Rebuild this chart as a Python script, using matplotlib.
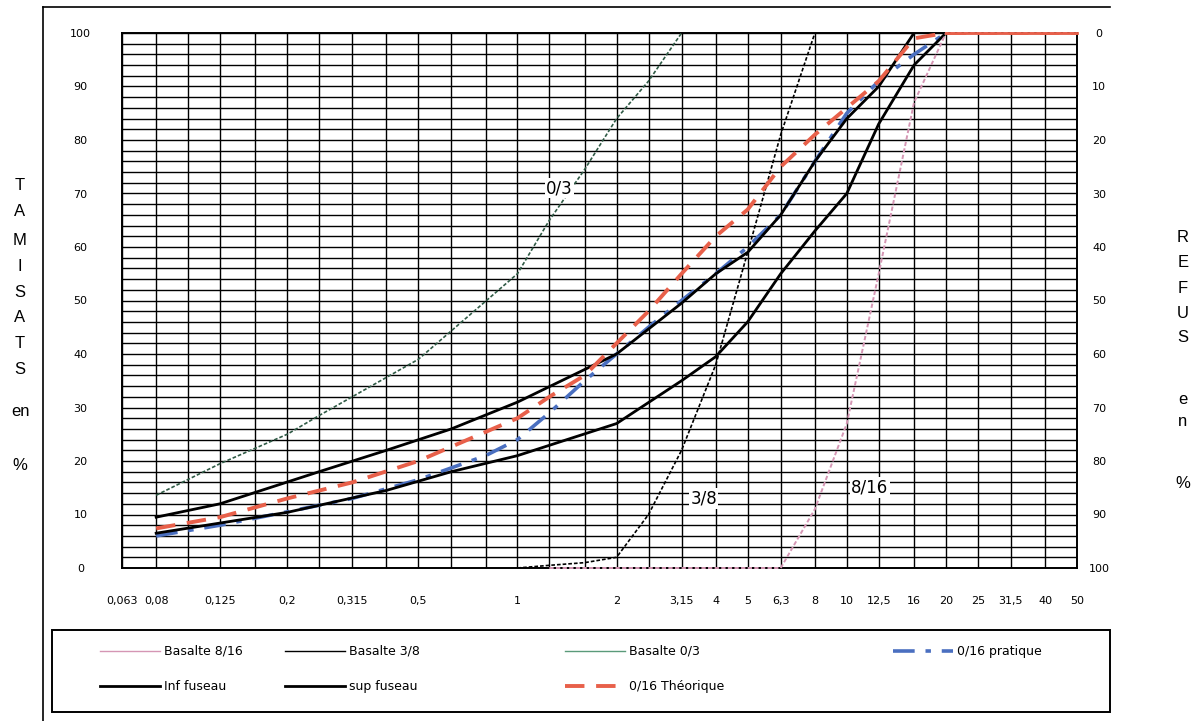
import numpy as np
import matplotlib
matplotlib.use("Agg")
import matplotlib.pyplot as plt
from matplotlib.ticker import FixedLocator, FixedFormatter, NullFormatter
from matplotlib.lines import Line2D
from matplotlib.patches import Rectangle

# ---------------- data ----------------
tick_values = [0.063, 0.08, 0.125, 0.2, 0.315, 0.5, 1, 2, 3.15, 4, 5, 6.3, 8, 10,
               12.5, 16, 20, 25, 31.5, 40, 50]
tick_labels = ["0,063", "0,08", "0,125", "0,2", "0,315", "0,5", "1", "2", "3,15",
               "4", "5", "6,3", "8", "10", "12,5", "16", "20", "25", "31,5", "40", "50"]
grid_sieves = [0.063, 0.08, 0.1, 0.125, 0.16, 0.2, 0.25, 0.315, 0.4, 0.5, 0.63, 0.8,
               1, 1.25, 1.6, 2, 2.5, 3.15, 4, 5, 6.3, 8, 10, 12.5, 16, 20, 25, 31.5, 40, 50]

b816_x = [1.25, 1.6, 2, 2.5, 3.15, 4, 5, 6.3, 8, 10, 12.5, 16, 20, 25, 31.5, 40, 50]
b816_y = [0, 0, 0, 0, 0, 0, 0, 0, 11, 27, 55, 87, 100, 100, 100, 100, 100]

b38_x = [1, 1.25, 1.6, 2, 2.5, 3.15, 4, 5, 6.3, 8]
b38_y = [0, 0.5, 1, 2, 10, 22, 38, 59, 81, 100]

b03_x = [0.08, 0.125, 0.2, 0.25, 0.315, 0.5, 1, 1.25, 1.6, 2, 2.5, 3.15]
b03_y = [13.6, 19.5, 25, 28.5, 32, 39, 55, 65, 74.5, 84, 91, 100]

prat_x = [0.08, 0.125, 0.2, 0.315, 0.5, 0.8, 1, 1.25, 1.6, 2, 2.5, 3.15, 4, 5, 6.3,
          8, 10, 12.5, 16, 20]
prat_y = [6, 8, 10.5, 13, 16.5, 21, 24, 29, 35, 40, 45, 50, 55, 60, 66, 76, 85, 91, 96, 100]

inf_x = [0.08, 0.2, 0.4, 0.63, 1, 2, 3.15, 4, 5, 6.3, 8, 10, 12.5, 16, 20]
inf_y = [6.5, 10.4, 14.5, 18, 21, 27, 35, 39.5, 46, 55, 63, 70, 83, 94, 100]

sup_x = [0.08, 0.125, 0.25, 0.4, 0.63, 1, 2, 3.15, 4, 5, 6.3, 8, 10, 12.5, 16]
sup_y = [9.5, 12, 18, 22, 26, 31, 40, 49.5, 55, 59, 66, 76, 84, 90, 100]

theo_x = [0.08, 0.125, 0.2, 0.315, 0.5, 1, 1.25, 1.6, 2, 2.5, 3.15, 4, 5, 6.3, 8, 10,
          12.5, 16, 20, 25, 31.5, 40, 50]
theo_y = [7.4, 9.5, 13, 16, 20, 28, 32, 36, 42, 48, 55, 62, 67, 75, 81, 86, 91, 99,
          100, 100, 100, 100, 100]

# ---------------- figure ----------------
W, H = 1199, 721
fig = plt.figure(figsize=(W / 100, H / 100), dpi=100)
fig.patch.set_facecolor("white")

L, R, T, B = 122, 1077, 33, 568
ax = fig.add_axes([L / W, 1 - B / H, (R - L) / W, (B - T) / H])
ax.set_xscale("log")
ax.set_xlim(0.063, 50)
ax.set_ylim(0, 100)

ax.xaxis.set_major_locator(FixedLocator(tick_values))
ax.xaxis.set_major_formatter(FixedFormatter(tick_labels))
ax.xaxis.set_minor_locator(FixedLocator(grid_sieves))
ax.xaxis.set_minor_formatter(NullFormatter())
ax.yaxis.set_major_locator(FixedLocator(list(range(0, 101, 10))))
ax.yaxis.set_minor_locator(FixedLocator(list(range(0, 101, 2))))
ax.grid(which="both", color="black", linewidth=1.0)
ax.set_axisbelow(True)
ax.tick_params(which="both", length=0)
ax.tick_params(axis="x", pad=20, labelsize=8)
ax.tick_params(axis="y", pad=30, labelsize=8)
for lab in ax.get_yticklabels():
    lab.set_horizontalalignment("center")
for s in ax.spines.values():
    s.set_linewidth(1.4)
    s.set_color("black")

# curves
lw_thin = 1.0
dot = (2.2, 1.2)
ax.plot(b816_x, b816_y, color="#d596b4", lw=1.4, dashes=dot, zorder=8, clip_on=False)
ax.plot(b38_x, b38_y, color="black", lw=1.2, dashes=dot, zorder=3)
ax.plot(b03_x, b03_y, color="#2f5a45", lw=1.2, dashes=dot, zorder=3)
ax.plot(prat_x, prat_y, color="#4a6fc0", lw=2.6, dashes=(6, 3, 1.5, 3), zorder=4)
ax.plot(inf_x, inf_y, color="black", lw=2.0, zorder=5)
ax.plot(sup_x, sup_y, color="black", lw=2.0, zorder=5)
ax.plot(theo_x, theo_y, color="#e8604a", lw=2.8, dashes=(5, 3), zorder=6)
# solid top segment (100 %) above the frame
ax.plot(theo_x[-5:], theo_y[-5:], color="#e8604a", lw=2.0, zorder=9, clip_on=False)

# curve labels
for txt, xx, yy in [("0/3", 1.22, 71), ("3/8", 3.35, 13), ("8/16", 10.3, 15)]:
    ax.text(xx, yy, txt, fontsize=12, ha="left", va="center", zorder=7,
            bbox=dict(facecolor="white", edgecolor="none", pad=1))

# right axis (refus)
ax2 = ax.twinx()
ax2.set_ylim(100, 0)
ax2.yaxis.set_major_locator(FixedLocator(list(range(0, 101, 10))))
ax2.tick_params(length=0, pad=16, labelsize=8)
for lab in ax2.get_yticklabels():
    lab.set_horizontalalignment("center")
for s in ax2.spines.values():
    s.set_visible(False)

# side titles
left_letters = ["T", "A", "M", "I", "S", "A", "T", "S", "en", "%"]
left_ys = [185, 212, 240, 266, 292, 318, 344, 370, 411, 465]
for ch, yy in zip(left_letters, left_ys):
    fig.text(20 / W, 1 - yy / H, ch, fontsize=12, ha="center", va="center",
             family="Liberation Sans")
right_letters = ["R", "E", "F", "U", "S", "e", "n", "%"]
right_ys = [237, 262, 288, 313, 338, 400, 421, 484]
for ch, yy in zip(right_letters, right_ys):
    fig.text(1183 / W, 1 - yy / H, ch, fontsize=12, ha="center", va="center",
             family="Liberation Sans")

# outer frame lines
fig.add_artist(Line2D([43 / W, 43 / W], [0, 1 - 7 / H], color="black", lw=1.2,
                      transform=fig.transFigure))
fig.add_artist(Line2D([43 / W, 1110 / W], [1 - 7 / H, 1 - 7 / H], color="black", lw=1.2,
                      transform=fig.transFigure))
# legend box
fig.add_artist(Rectangle((52 / W, 1 - 712 / H), (1110 - 52) / W, (712 - 630) / H,
                         transform=fig.transFigure, fill=False, edgecolor="black", lw=1.4))

# legends
h_816 = Line2D([], [], color="#d596b4", lw=lw_thin)
h_38 = Line2D([], [], color="black", lw=lw_thin)
h_03 = Line2D([], [], color="#5a9a7a", lw=lw_thin)
h_prat = Line2D([], [], color="#4a6fc0", lw=2.6, dashes=(6, 3, 1.5, 3))
h_inf = Line2D([], [], color="black", lw=2.0)
h_sup = Line2D([], [], color="black", lw=2.0)
h_theo = Line2D([], [], color="#e8604a", lw=2.8, dashes=(5, 3))

cols = [
    ([h_816, h_inf], ["Basalte 8/16", "Inf fuseau"], 100),
    ([h_38, h_sup], ["Basalte 3/8", "sup fuseau"], 285),
    ([h_03, h_theo], ["Basalte 0/3", "0/16 Théorique"], 565),
    ([h_prat], ["0/16 pratique"], 893),
]
for hs, ls, x0 in cols:
    fig.legend(hs, ls, loc="upper left", bbox_to_anchor=(x0 / W, 1 - 645 / H),
               frameon=False, fontsize=9, handlelength=4.8, handletextpad=0.3,
               labelspacing=1.75, borderpad=0, borderaxespad=0)

fig.savefig("out.png", dpi=100, facecolor="white")
